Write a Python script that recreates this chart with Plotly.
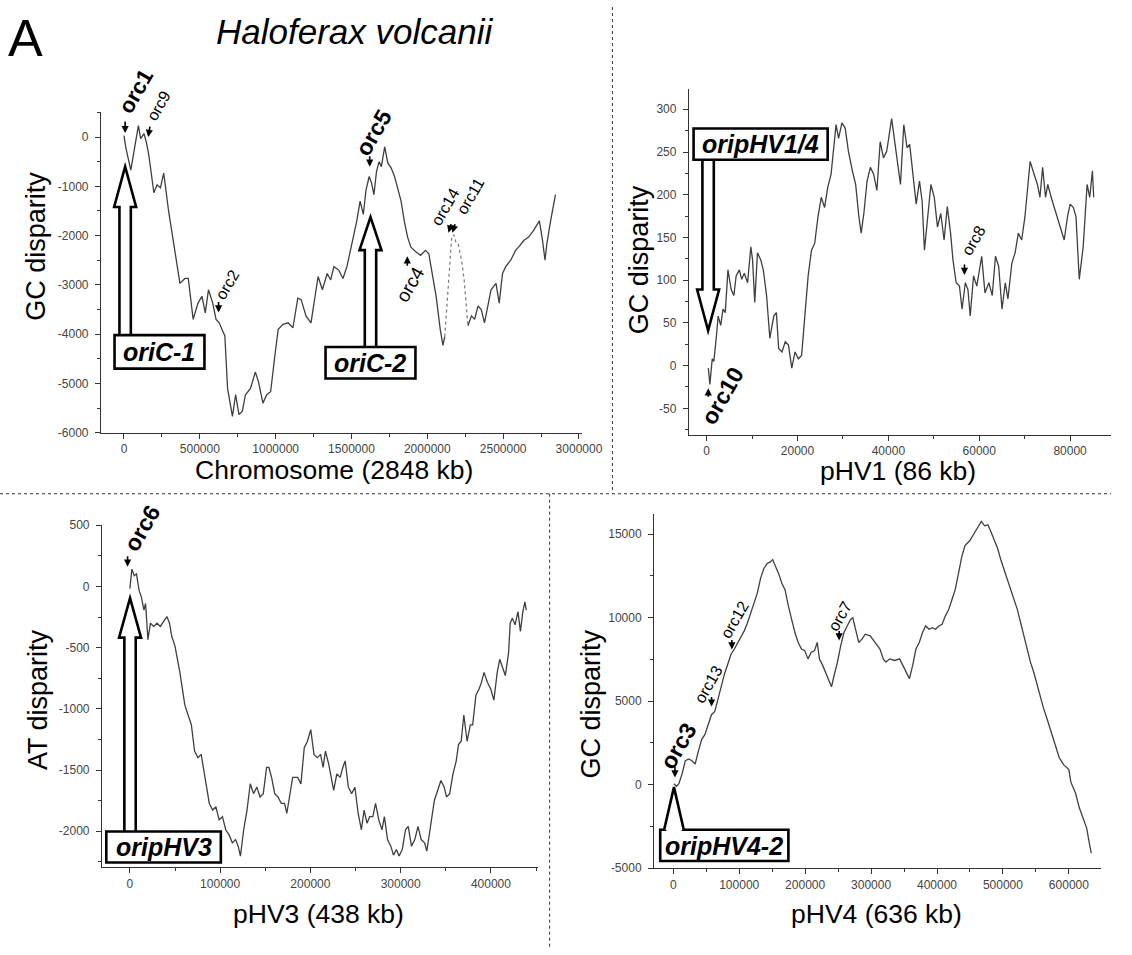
import plotly.graph_objects as go

W, H = 1132, 955


def px(x):
    return x / W


def py(y):
    return 1 - y / H


# ---------------- data ----------------
# Chromosome (2848 kb) GC disparity, solid part 1
chr_x = [0, 13000, 45000, 67000, 95000, 110000, 132000, 147000, 164000, 197000, 218000, 240000,
         262000, 294000, 337000, 369000, 402000, 424000, 456000, 488000, 514000, 536000, 557000,
         585000, 607000, 628000, 650000, 665000, 683000, 715000, 736000, 758000, 780000, 801000,
         834000, 866000, 887000, 916000, 941000, 967000, 995000, 1017000, 1049000, 1082000,
         1114000, 1146000, 1168000, 1200000, 1233000, 1254000, 1280000, 1308000, 1340000,
         1363000, 1384000, 1416000, 1444000, 1470000, 1503000, 1535000, 1557000, 1578000,
         1596000, 1617000, 1632000, 1648000, 1665000, 1682000, 1697000, 1719000, 1740000,
         1762000, 1784000, 1805000, 1827000, 1848000, 1870000, 1891000, 1924000, 1956000,
         1988000, 2010000, 2032000, 2058000, 2085000, 2103000, 2115000]
chr_y = [30, -230, -670, -300, 230, -30, 70, -100, -370, -1130, -970, -1030,
         -730, -1500, -2370, -2970, -2870, -2870, -3700, -3370, -3230, -3570, -3100,
         -3370, -3700, -3770, -3930, -4030, -5100, -5670, -5230, -5630, -5570, -5230,
         -5100, -4770, -4970, -5400, -5230, -5170, -4430, -3900, -3800, -3770,
         -3870, -3270, -3300, -3630, -3770, -3370, -2830, -3100, -2770,
         -2900, -2630, -2700, -2870, -2630, -2170, -1700, -1300, -1570,
         -1070, -800, -930, -1170, -700, -500, -600, -200, -530,
         -630, -800, -1030, -1300, -1700, -2030, -2230, -2330, -2400,
         -2300, -2370, -2770, -3230, -3900, -4230, -4050]
# dotted stretch
chr_gap_x = [2115000, 2140000, 2161000, 2175000, 2190000, 2204000, 2226000, 2243000, 2268000]
chr_gap_y = [-4050, -2900, -2030, -1980, -2150, -2170, -2500, -2900, -3830]
# solid part 2
chr_x2 = [2268000, 2291000, 2312000, 2334000, 2356000, 2377000, 2399000, 2420000, 2453000,
          2474000, 2496000, 2517000, 2550000, 2582000, 2603000, 2636000, 2668000, 2700000,
          2739000, 2760000, 2776000, 2788000, 2813000, 2830000, 2845000]
chr_y2 = [-3830, -3630, -3700, -3430, -3500, -3770, -3430, -3100, -2970,
          -3370, -2770, -2630, -2500, -2300, -2230, -2100, -2030, -1900,
          -1700, -2100, -2500, -2170, -1700, -1370, -1170]

# pHV1 (86 kb) GC disparity
p1_x = [370, 710, 1230, 1580, 2160, 2530, 3100, 3600, 4100, 4690, 5400, 5990, 6490, 7200, 7710,
        8290, 9010, 9730, 10100, 10590, 11180, 11890, 12470, 13190, 13910, 14770, 15350, 15850,
        16580, 17300, 18010, 18740, 19460, 20180, 20900, 21620, 22340, 23070, 23780, 24500,
        25230, 25950, 26660, 27390, 27890, 28480, 29040, 29770, 30490, 31200, 32070, 32800,
        33510, 34010, 34600, 35310, 36040, 36760, 37470, 38200, 38920, 39640, 40720, 41450,
        42160, 42660, 43390, 44110, 44690, 45410, 46120, 46850, 47420, 47940, 48650, 49360,
        50100, 50810, 51530, 52260, 52970, 53690, 54210, 54920, 55640, 56220, 56930, 57510,
        58010, 58750, 59460, 60540, 61260, 62120, 62860, 63570, 64280, 65010, 65730, 66310,
        67180, 67890, 68610, 69340, 70050, 70640, 71200, 72070, 72800, 73360, 73950, 74590,
        75090, 75830, 76760, 77840, 78700, 79420, 80000, 80720, 81300, 82010, 82880, 83740,
        84320, 84910, 85190]
p1_y = [-3, -22, 8, 5, 35, 58, 47, 66, 62, 112, 89, 82, 105, 112, 101,
        108, 97, 139, 124, 74, 132, 124, 112, 82, 32, 58, 62, 20,
        16, 28, 24, -3, 16, 8, 12, 58, 105, 135, 143, 174,
        197, 185, 209, 224, 255, 282, 266, 284, 278, 251, 228, 212,
        174, 155, 178, 216, 232, 224, 205, 262, 243, 251, 289, 262,
        236, 212, 282, 255, 259, 220, 189, 216, 193, 135, 174, 212,
        197, 162, 178, 147, 186, 155, 124, 97, 93, 66, 97, 89,
        58, 105, 93, 128, 85, 97, 82, 128, 116, 66, 97, 78,
        120, 132, 155, 147, 174, 212, 239, 224, 212, 197, 232, 197,
        212, 197, 182, 162, 147, 174, 189, 185, 174, 101, 139, 212,
        197, 228, 197]

# pHV3 (438 kb) AT disparity
p3_x = [0, 2200, 4800, 7300, 10200, 12700, 15600, 17400, 20000, 22800, 26500, 30100, 33700,
        37400, 41000, 43900, 46400, 50000, 55400, 60900, 64500, 68100, 71700, 75400, 79000,
        82600, 88000, 91700, 95300, 98900, 102600, 106200, 109800, 113500, 117100, 120000,
        122500, 126100, 129800, 133400, 137000, 140700, 144200, 147800, 151500, 154000,
        157000, 160500, 164100, 167800, 171400, 173900, 176800, 180400, 185900, 189500,
        193200, 196700, 200400, 204000, 207600, 211300, 214100, 216700, 220300, 222800,
        225800, 229300, 233000, 235900, 238500, 242100, 245700, 249300, 252900, 256500,
        259500, 262700, 265700, 269200, 272200, 275800, 279300, 282000, 285500, 289100,
        292100, 295300, 298300, 301800, 305400, 308400, 312000, 315700, 319200, 322800,
        326500, 329000, 332600, 337400, 341000, 344600, 348200, 350800, 354300, 358000,
        361600, 364100, 367100, 370000, 373600, 377200, 379800, 383400, 387000, 389600,
        392400, 396100, 399700, 403300, 407000, 409800, 413500, 416000, 419600, 421400,
        423700, 426800, 430000, 432700, 435400, 437700, 439200]
p3_y = [-18, 142, 88, 102, -32, -85, -193, -139, -434, -300, -326, -300, -326,
        -286, -246, -300, -407, -487, -702, -970, -1050, -1130, -1345, -1399, -1372,
        -1532, -1773, -1827, -1800, -1907, -1881, -1988, -2028, -2095, -2068, -2122,
        -2203, -1988, -1827, -1612, -1693, -1640, -1720, -1693, -1479, -1479,
        -1560, -1693, -1720, -1773, -1773, -1853, -1720, -1560, -1560, -1613,
        -1318, -1265, -1170, -1372, -1399, -1372, -1479, -1345, -1452, -1560,
        -1667, -1532, -1560, -1479, -1425, -1640, -1693, -1640, -1853, -1988,
        -1827, -1934, -1881, -1881, -1773, -1907, -1988, -1881, -2068, -2122,
        -2195, -2149, -2203, -2149, -1988, -1961, -2122, -2068, -1961, -2068,
        -2095, -2163, -1988, -1747, -1667, -1586, -1640, -1720, -1693, -1532,
        -1425, -1292, -1265, -1050, -1265, -1131, -1131, -889, -836, -782,
        -702, -782, -836, -929, -702, -595, -675, -728, -541, -300,
        -260, -313, -206, -367, -206, -125, -193]

# pHV4 (636 kb) GC disparity
p4_x = [1000, 4900, 8500, 13400, 18300, 23400, 28300, 33200, 38200, 43200, 48100, 53100, 58000,
        63000, 68000, 72900, 77800, 82900, 87800, 92700, 97800, 102700, 107600, 112600, 117600,
        122500, 127500, 132400, 137400, 142400, 147300, 150700, 154800, 159700, 164700, 169600,
        174600, 179600, 184500, 189400, 194500, 199400, 204300, 209400, 214300, 218300, 221700,
        226600, 231700, 236600, 240000, 244000, 249000, 254000, 258900, 263800, 268900, 272300,
        276300, 281300, 286200, 291200, 298700, 306100, 313500, 318500, 322500, 328400, 335900,
        343300, 348200, 353100, 358200, 363100, 368000, 373100, 378000, 382900, 388000, 392900,
        397800, 402800, 407700, 412600, 417700, 422600, 427500, 432600, 437500, 442400, 449900,
        457300, 462400, 467300, 472200, 477200, 482100, 487100, 492100, 497000, 501900, 507000,
        511900, 516800, 521900, 526800, 531700, 536800, 541700, 546600, 551600, 556500, 561500,
        566500, 571400, 576300, 581400, 585300, 592000, 600000, 603000, 610000, 616000, 622000,
        627000, 631000, 634000]
p4_y = [59, -100, 59, 649, 1435, 1535, 1435, 1240, 2025, 2716, 3011, 3601, 4191,
        4386, 5171, 5862, 6647, 7237, 7828, 8123, 8518, 8914, 9209, 9700, 10290,
        10880, 11470, 12357, 12947, 13242, 13342, 13478, 13142, 12651, 12061, 11666,
        10685, 9894, 9109, 8518, 8123, 8028, 7533, 7928, 8028, 8518, 7533,
        7143, 6647, 6157, 5862, 6553, 7338, 8323, 9109, 9504, 9894, 9994,
        9304, 8518, 8713, 9009, 8914, 8518, 8123, 7533, 7338, 7533, 7438,
        7533, 7143, 6848, 6352, 7143, 8123, 8518, 9109, 9504, 9304, 9404,
        9304, 9504, 9599, 10094, 10484, 11075, 11666, 12651, 13637, 14322, 14617,
        15112, 15407, 15761, 15502, 15561, 15112, 14617, 14126, 13435, 12845, 12160,
        11666, 11075, 10484, 9699, 8914, 8123, 7338, 6747, 5962, 5372, 4581,
        3991, 3400, 2810, 2220, 1629, 1200, 900, 150, -500, -1400, -2000,
        -2600, -3500, -4100]

# tick values / labels
chr_xticks = [0, 500000, 1000000, 1500000, 2000000, 2500000, 3000000]
chr_yticks = [-6000, -5000, -4000, -3000, -2000, -1000, 0]
p1_xticks = [0, 20000, 40000, 60000, 80000]
p1_yticks = [-50, 0, 50, 100, 150, 200, 250, 300]
p3_xticks = [0, 100000, 200000, 300000, 400000]
p3_yticks = [-2000, -1500, -1000, -500, 0, 500]
p4_xticks = [0, 100000, 200000, 300000, 400000, 500000, 600000]
p4_yticks = [-5000, 0, 5000, 10000, 15000]

FONT = "Liberation Sans, Arial, sans-serif"

fig = go.Figure()
curve = dict(color="#3f3f3f", width=1.3)
fig.add_trace(go.Scatter(x=chr_x, y=chr_y, mode="lines", line=curve, xaxis="x", yaxis="y"))
fig.add_trace(go.Scatter(x=chr_gap_x, y=chr_gap_y, mode="lines",
                         line=dict(color="#777777", width=1.2, dash="dot"), xaxis="x", yaxis="y"))
fig.add_trace(go.Scatter(x=chr_x2, y=chr_y2, mode="lines", line=curve, xaxis="x", yaxis="y"))
fig.add_trace(go.Scatter(x=p1_x, y=p1_y, mode="lines", line=curve, xaxis="x2", yaxis="y2"))
fig.add_trace(go.Scatter(x=p3_x, y=p3_y, mode="lines", line=curve, xaxis="x3", yaxis="y3"))
fig.add_trace(go.Scatter(x=p4_x, y=p4_y, mode="lines", line=curve, xaxis="x4", yaxis="y4"))


def ax(domain, rng, ticks, minor_dtick, anchor, standoff):
    return dict(domain=domain, range=rng, anchor=anchor,
                tickmode="array", tickvals=ticks, ticktext=[str(t) for t in ticks],
                showline=True, linecolor="#333333", linewidth=1.3,
                ticks="outside", ticklen=5, tickwidth=1, tickcolor="#333333",
                ticklabelstandoff=standoff,
                showgrid=False, zeroline=False,
                tickfont=dict(family=FONT, size=12, color="#444444"),
                minor=dict(ticks="outside", ticklen=3, tickwidth=1, tickcolor="#333333",
                           dtick=minor_dtick, tick0=0, showgrid=False))


layout = dict(
    autosize=True, margin=dict(l=0, r=0, t=0, b=0),
    paper_bgcolor="white", plot_bgcolor="white", showlegend=False,
    xaxis=ax([px(103), px(593)], [-151000, 3020000], chr_xticks, 250000, "y", 0),
    yaxis=ax([py(432), py(107)], [-6000, 500], chr_yticks, 500, "x", 4),
    xaxis2=ax([px(702), px(1132)], [-3890, 89000], p1_xticks, 10000, "y2", 0),
    yaxis2=ax([py(434), py(83)], [-80.8, 324], p1_yticks, 25, "x2", 4),
    xaxis3=ax([px(104), px(548)], [-30800, 452000], p3_xticks, 50000, "y3", 0),
    yaxis3=ax([py(873), py(526)], [-2294, 500], p3_yticks, 250, "x3", 4),
    xaxis4=ax([px(666.5), px(1122)], [-29000, 649000], p4_xticks, 50000, "y4", 0),
    yaxis4=ax([py(874), py(515)], [-5000, 16180], p4_yticks, 2500, "x4", 4),
)
fig.update_layout(**layout)

shapes = []
# dotted separators
sep = dict(color="#333333", width=1, dash="dot")
shapes.append(dict(type="line", xref="paper", yref="paper", x0=0, x1=1, y0=py(494), y1=py(494), line=sep))
shapes.append(dict(type="line", xref="paper", yref="paper", x0=px(624), x1=px(624), y0=py(0), y1=py(494), line=sep))
shapes.append(dict(type="line", xref="paper", yref="paper", x0=px(560), x1=px(560), y0=py(494), y1=py(955), line=sep))


def block_arrow(cx, y_base, y_headbase, y_tip, stem_hw=5.8, head_hw=11.2):
    pts = [(cx - stem_hw, y_base), (cx - stem_hw, y_headbase), (cx - head_hw, y_headbase),
           (cx, y_tip), (cx + head_hw, y_headbase), (cx + stem_hw, y_headbase), (cx + stem_hw, y_base)]
    path = "M " + " L ".join(f"{px(x):.5f},{py(y):.5f}" for x, y in pts)
    return dict(type="path", path=path, xref="paper", yref="paper",
                line=dict(color="black", width=2.6), fillcolor="white")


def box(x0, y0, x1, y1):
    return dict(type="rect", xref="paper", yref="paper", x0=px(x0), x1=px(x1), y0=py(y1), y1=py(y0),
                line=dict(color="black", width=2.6), fillcolor="white")


shapes.append(block_arrow(127.5, 333, 203, 162))
shapes.append(box(116.7, 333, 208.3, 367))
shapes.append(block_arrow(377.5, 345, 246.7, 213.3))
shapes.append(box(331.7, 345, 423.3, 377))
shapes.append(block_arrow(721.5, 155, 286.7, 328.3))
shapes.append(box(706.7, 123.3, 843.3, 155))
shapes.append(block_arrow(132.5, 836.7, 640, 600))
shapes.append(box(108.3, 836.7, 225, 868.3))
shapes.append(box(672.7, 835, 803.3, 866.7))
tri = [(676.7, 835), (686.7, 791.7), (696.7, 835)]
shapes.append(dict(type="path", xref="paper", yref="paper",
                   path="M " + " L ".join(f"{px(x):.5f},{py(y):.5f}" for x, y in tri),
                   line=dict(color="black", width=2.6), fillcolor="white"))
shapes.append(dict(type="line", xref="paper", yref="paper", x0=px(679), x1=px(694.5), y0=py(835), y1=py(835),
                   line=dict(color="white", width=3)))
fig.update_layout(shapes=shapes)

ann = []


def text(x, y, s, size, angle=0, color="black"):
    ann.append(dict(x=px(x), y=py(y), xref="paper", yref="paper", text=s, showarrow=False,
                    xanchor="center", yanchor="middle", textangle=angle,
                    font=dict(family=FONT, size=size, color=color)))


# headings
text(26, 31, "A", 52)
text(361, 25, "<i>Haloferax volcanii</i>", 35)
# axis titles
text(340, 470, "Chromosome (2848 kb)", 26.5)
text(915, 471, "pHV1 (86 kb)", 26.5)
text(325, 920, "pHV3 (438 kb)", 26.5)
text(893, 920, "pHV4 (636 kb)", 26.5)
text(37, 243, "GC disparity", 27, -90)
text(651, 256, "GC disparity", 27, -90)
text(38, 703, "AT disparity", 27, -90)
text(602, 707, "GC disparity", 27, -90)
# origin boxes
text(162.5, 350, "<b><i>oriC-1</i></b>", 25)
text(377.5, 361, "<b><i>oriC-2</i></b>", 25)
text(775, 139, "<b><i>oripHV1/4</i></b>", 25)
text(166.7, 852.5, "<b><i>oripHV3</i></b>", 25)
text(738, 851, "<b><i>oripHV4-2</i></b>", 25)
# orc labels
ANG = -60
text(138.5, 86, "<b>orc1</b>", 22, ANG)
text(162, 100, "orc9", 16, ANG)
text(381, 127, "<b>orc5</b>", 23, ANG)
text(232, 282, "orc2", 16, ANG)
text(418, 282, "orc4", 19, ANG)
text(453, 203, "orc14", 16, ANG)
text(479, 192, "orc11", 16, ANG)
text(736, 395, "<b>orc10</b>", 23, ANG)
text(992, 237, "orc8", 16, ANG)
text(145, 529, "<b>orc6</b>", 23, ANG)
text(691, 750, "<b>orc3</b>", 23, ANG)
text(722, 688, "orc13", 16, ANG)
text(749, 622, "orc12", 16, ANG)
text(856, 619, "orc7", 16, ANG)


def small_arrow(x, y, axo, ayo):
    ann.append(dict(x=px(x), y=py(y), xref="paper", yref="paper", text="", showarrow=True,
                    ax=axo, ay=ayo, arrowhead=2, arrowsize=0.9, arrowwidth=1.6, arrowcolor="black"))


small_arrow(127.5, 128, 0, -13)
small_arrow(151, 132, 2, -12)
small_arrow(376.7, 162, 0, -12)
small_arrow(222.7, 310, 0, -12)
small_arrow(415, 253, 0, 11)
small_arrow(457, 229, 3, -10)
small_arrow(461, 229, 3, -10)
small_arrow(721.7, 387, 0, 10)
small_arrow(982.7, 272, 0, -12)
small_arrow(130, 568, 0, -12)
small_arrow(687.7, 782, 0, -12)
small_arrow(725, 710, 0, -11)
small_arrow(745.7, 652, 0, -11)
small_arrow(855, 643, 0, -11)

fig.update_layout(annotations=ann)
post = ("var h=document.documentElement, b=document.body;"
        "h.style.margin='0';h.style.padding='0';h.style.height='100%';h.style.overflow='hidden';"
        "b.style.margin='0';b.style.padding='0';b.style.height='100%';b.style.overflow='hidden';"
        "var gd=document.getElementById('{plot_id}');"
        "gd.parentNode.style.height='100%';gd.parentNode.style.width='100%';"
        "gd.style.height='100%';gd.style.width='100%';"
        "Plotly.Plots.resize(gd);")
fig.write_html("out.html", config={"displayModeBar": False, "responsive": True},
               default_width="100%", default_height="100%", post_script=post)
